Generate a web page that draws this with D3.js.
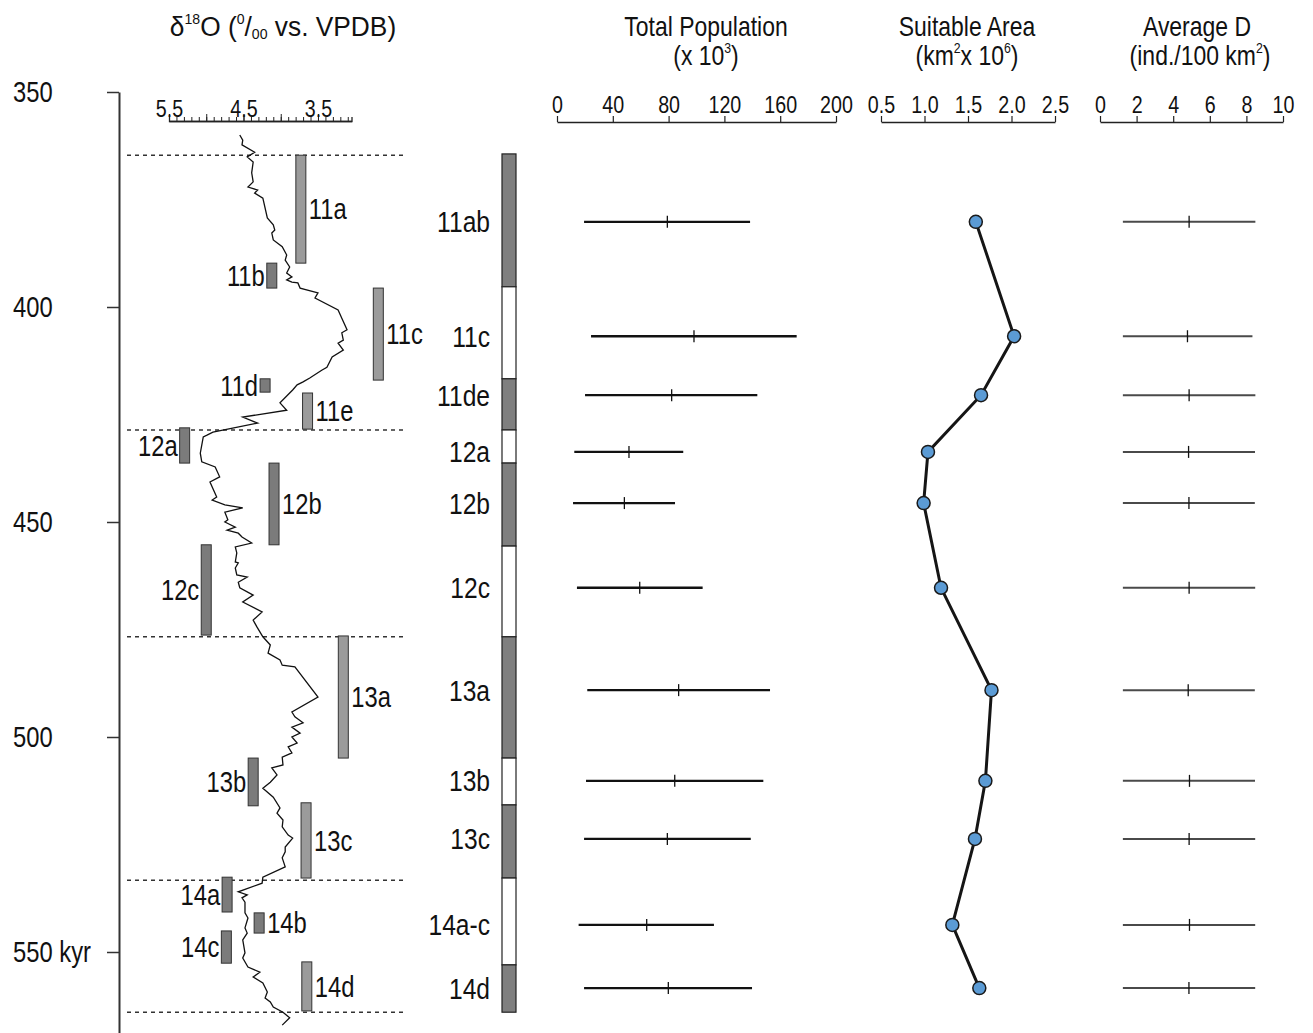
<!DOCTYPE html>
<html lang="en">
<head>
    <meta charset="UTF-8">
    <title>MIS 11-14 population estimates</title>
    <script src="https://cdn.jsdelivr.net/npm/d3@7/dist/d3.min.js"></script>
    <style>
        body { margin: 0; background: #fff; }
        svg text { font-family: 'Liberation Sans', Arial, sans-serif; fill: #111; }
    </style>
</head>
<body>
<svg width="1313" height="1033" id="mainsvg"></svg>
<script>
// ---- data ----
const ageTicks = [350, 400, 450, 500, 550]
const isoLabelTicks = [5.5, 4.5, 3.5]

// benthic d18O record (age kyr, permil)
const d18oAge = [360.0, 361.2, 362.3, 364.0, 365.1, 366.3, 368.8, 370.9, 372.1, 372.8,
    373.5, 374.7, 379.3, 380.9, 382.1, 382.8, 384.4, 386.0, 387.9, 389.1,
    390.7, 392.1, 393.0, 393.7, 394.2, 394.4, 395.6, 396.7, 397.9, 400.7,
    402.6, 405.3, 406.0, 407.7, 408.4, 410.0, 411.6, 414.0, 414.7, 416.5,
    417.4, 418.1, 419.3, 422.3, 424.0, 425.6, 427.0, 429.1, 429.8, 430.2,
    434.0, 436.0, 437.2, 439.5, 440.7, 444.2, 444.9, 446.0, 446.7, 447.7,
    449.5, 450.0, 451.2, 451.9, 452.6, 453.5, 454.9, 455.8, 457.2, 459.3,
    459.5, 460.7, 462.3, 462.8, 464.0, 465.3, 467.0, 468.6, 470.9, 472.8,
    474.4, 476.7, 478.6, 480.5, 482.1, 483.3, 483.7, 490.7, 494.2, 495.3,
    496.7, 497.7, 499.1, 500.0, 501.4, 502.3, 503.7, 504.7, 506.5, 507.2,
    508.8, 510.5, 511.9, 514.0, 516.5, 517.7, 519.3, 520.9, 522.8, 523.5,
    525.6, 526.7, 528.1, 530.2, 532.6, 534.0, 536.0, 536.7, 537.4, 538.4,
    540.9, 542.1, 544.4, 545.6, 547.2, 550.2, 551.4, 553.5, 554.7, 555.8,
    557.2, 559.3, 560.7, 561.6, 562.8, 564.0, 565.3, 567.0]
const d18oValue = [4.55, 4.51, 4.52, 4.35, 4.45, 4.37, 4.39, 4.37, 4.44, 4.31,
    4.35, 4.24, 4.18, 4.10, 4.08, 4.12, 4.10, 3.98, 3.92, 3.94,
    3.88, 3.92, 3.85, 3.92, 3.85, 3.77, 3.74, 3.50, 3.54, 3.23,
    3.18, 3.11, 3.18, 3.16, 3.23, 3.16, 3.31, 3.38, 3.45, 3.61,
    3.70, 3.78, 3.84, 4.01, 3.92, 4.51, 4.31, 4.91, 4.99, 5.04,
    5.08, 5.06, 4.88, 4.82, 4.95, 4.86, 4.92, 4.75, 4.51, 4.75,
    4.71, 4.75, 4.61, 4.72, 4.57, 4.52, 4.39, 4.61, 4.59, 4.61,
    4.57, 4.61, 4.59, 4.45, 4.57, 4.55, 4.37, 4.51, 4.25, 4.37,
    4.32, 4.24, 4.14, 4.17, 4.01, 3.98, 3.81, 3.50, 3.85, 3.81,
    3.70, 3.85, 3.74, 3.85, 3.78, 3.90, 3.85, 3.98, 3.97, 4.12,
    4.05, 4.14, 4.24, 4.10, 4.01, 4.05, 3.97, 3.98, 3.90, 3.84,
    3.94, 3.94, 3.98, 3.94, 4.24, 4.25, 4.57, 4.45, 4.52, 4.48,
    4.48, 4.44, 4.48, 4.45, 4.51, 4.48, 4.51, 4.44, 4.28, 4.37,
    4.24, 4.18, 4.21, 4.14, 4.10, 3.97, 3.88, 3.98]

// MIS boundaries (dotted lines)
const boundaryAge = [364.7, 428.6, 476.7, 533.3, 564.0]

// substages next to the isotope curve
const subLabels = ['11a', '11b', '11c', '11d', '11e', '12a', '12b', '12c', '13a', '13b', '13c', '14a', '14b', '14c', '14d']
const subStart = [364.7, 389.8, 395.6, 416.7, 420.0, 428.1, 436.3, 455.3, 476.5, 504.9, 515.3, 532.6, 540.9, 545.1, 552.3]
const subEnd = [389.8, 395.6, 417.0, 419.8, 428.4, 436.3, 455.3, 476.3, 504.9, 516.0, 532.8, 540.7, 545.6, 552.6, 563.7]
const subIso = [3.73, 4.12, 2.69, 4.21, 3.64, 5.29, 4.09, 5.00, 3.16, 4.37, 3.66, 4.72, 4.29, 4.73, 3.65]
const subWarm = [true, false, true, false, true, false, false, false, true, false, true, false, false, false, true]

// intervals used for the estimates
const colLabels = ['11ab', '11c', '11de', '12a', '12b', '12c', '13a', '13b', '13c', '14a-c', '14d']
const colStart = [364.4, 395.3, 416.7, 428.6, 436.3, 455.6, 476.7, 504.9, 515.8, 532.8, 553.0]
const colEnd = [395.3, 416.7, 428.6, 436.3, 455.6, 476.7, 504.9, 515.8, 532.8, 553.0, 564.0]
const rowAge = [380.2, 406.8, 420.5, 433.7, 445.6, 465.3, 489.1, 510.2, 523.7, 543.7, 558.4]

const popLow = [19.4, 24.4, 20.1, 12.4, 11.5, 14.3, 21.7, 20.8, 19.4, 15.5, 19.4]
const popMid = [79.1, 98.2, 82.2, 51.6, 48.3, 59.3, 87.2, 84.4, 79.1, 64.3, 79.8]
const popHigh = [138.4, 171.8, 143.6, 90.5, 84.6, 104.4, 152.7, 147.9, 138.9, 112.5, 139.8]

const areaValue = [1.59, 2.03, 1.65, 1.04, 0.99, 1.19, 1.77, 1.70, 1.58, 1.32, 1.63]

const densLow = [1.25, 1.25, 1.25, 1.25, 1.25, 1.25, 1.25, 1.25, 1.25, 1.25, 1.25]
const densMid = [4.87, 4.78, 4.87, 4.84, 4.86, 4.87, 4.82, 4.89, 4.87, 4.89, 4.86]
const densHigh = [8.49, 8.33, 8.49, 8.47, 8.46, 8.48, 8.46, 8.47, 8.48, 8.48, 8.48]

const popTicks = [0, 40, 80, 120, 160, 200]
const areaTicks = [0.5, 1.0, 1.5, 2.0, 2.5]
const densTicks = [0, 2, 4, 6, 8, 10]

// ---- scales ----
const svg = d3.select('#mainsvg')
const yAge = d3.scaleLinear().domain([350, 570]).range([92, 1038])
const xIso = d3.scaleLinear().domain([5.5, 3.05]).range([169, 351.5])
const xPop = d3.scaleLinear().domain([0, 200]).range([557, 836])
const xArea = d3.scaleLinear().domain([0.5, 2.5]).range([881, 1055])
const xDens = d3.scaleLinear().domain([0, 10]).range([1100, 1283])
const axisY = 122

const styleAxis = (g, size) => {
    g.select('.domain').attr('stroke', '#222').attr('stroke-width', 1.3)
    g.selectAll('.tick line').attr('stroke', '#222').attr('stroke-width', 1.2)
    g.selectAll('.tick text').attr('font-size', size)
}

// ---- age axis ----
const ageAxis = d3.axisLeft(yAge).tickValues(ageTicks).tickSize(12).tickSizeOuter(0)
    .tickFormat(d => d === 550 ? '550 kyr' : d)
const ageG = svg.append('g').attr('transform', 'translate(119,0)').call(ageAxis)
ageG.select('.domain').attr('stroke', '#333').attr('stroke-width', 2)
ageG.selectAll('.tick line').attr('stroke', '#333').attr('stroke-width', 1.5)
ageG.selectAll('.tick text').attr('x', -106).attr('text-anchor', 'start').attr('font-size', 29)

// ---- isotope axis ----
const isoG = svg.append('g').attr('transform', `translate(0,${axisY - 1})`)
isoG.append('g').call(d3.axisTop(xIso).tickValues(d3.range(55, 30, -1).map(d => d / 10))
    .tickSize(4).tickSizeOuter(4).tickFormat(''))
isoG.append('g').call(d3.axisTop(xIso).tickValues([5.5, 5.0, 4.5, 4.0, 3.5]).tickSize(7).tickSizeOuter(0)
    .tickFormat(d => isoLabelTicks.includes(d) ? d.toFixed(1) : ''))
isoG.selectAll('.domain').attr('stroke', '#222').attr('stroke-width', 1.3)
isoG.selectAll('.tick line').attr('stroke', '#222').attr('stroke-width', 1)
isoG.selectAll('.tick text').attr('y', -4).attr('font-size', 24)

// dotted boundaries
svg.append('g').selectAll('line').data(boundaryAge).join('line')
    .attr('x1', 127).attr('x2', 405)
    .attr('y1', d => yAge(d)).attr('y2', d => yAge(d))
    .attr('stroke', '#333').attr('stroke-width', 1.5).attr('stroke-dasharray', '4,4')

// isotope curve
const isoLine = d3.line().x(d => xIso(d[1])).y(d => yAge(d[0]))
svg.append('path').datum(d3.zip(d18oAge, d18oValue))
    .attr('d', isoLine).attr('fill', 'none').attr('stroke', '#111').attr('stroke-width', 1.3)

// substage bars
const subG = svg.append('g')
subLabels.forEach((lab, i) => {
    const cx = xIso(subIso[i])
    const y0 = yAge(subStart[i]), y1 = yAge(subEnd[i])
    subG.append('rect').attr('x', cx - 5).attr('y', y0).attr('width', 10).attr('height', y1 - y0)
        .attr('fill', subWarm[i] ? '#9b9b9b' : '#7b7b7b').attr('stroke', '#333').attr('stroke-width', 1)
    const right = i % 2 === 0
    subG.append('text').attr('x', right ? cx + 8 : cx - 7).attr('y', (y0 + y1) / 2)
        .attr('dy', '0.35em').attr('text-anchor', right ? 'start' : 'end')
        .attr('font-size', 29).text(lab)
})

// interval column
const colG = svg.append('g')
colLabels.forEach((lab, i) => {
    colG.append('rect').attr('x', 502).attr('y', yAge(colStart[i])).attr('width', 14)
        .attr('height', yAge(colEnd[i]) - yAge(colStart[i]))
        .attr('fill', i % 2 === 0 ? '#7f7f7f' : '#fff').attr('stroke', '#222').attr('stroke-width', 1.2)
    colG.append('text').attr('x', 490).attr('y', yAge(rowAge[i])).attr('dy', '0.35em')
        .attr('text-anchor', 'end').attr('font-size', 30).text(lab)
})

// ---- total population ----
const popG = svg.append('g')
popG.append('g').attr('transform', `translate(0,${axisY})`)
    .call(d3.axisTop(xPop).tickValues(popTicks).tickSize(6).tickSizeOuter(0).tickPadding(3))
    .call(g => styleAxis(g, 24))
rowAge.forEach((a, i) => {
    const y = yAge(a)
    popG.append('line').attr('x1', xPop(popLow[i])).attr('x2', xPop(popHigh[i]))
        .attr('y1', y).attr('y2', y).attr('stroke', '#111').attr('stroke-width', 2.4)
    popG.append('line').attr('x1', xPop(popMid[i])).attr('x2', xPop(popMid[i]))
        .attr('y1', y - 6).attr('y2', y + 6).attr('stroke', '#111').attr('stroke-width', 1.3)
})

// ---- suitable area ----
const areaG = svg.append('g')
areaG.append('g').attr('transform', `translate(0,${axisY})`)
    .call(d3.axisTop(xArea).tickValues(areaTicks).tickSize(6).tickSizeOuter(0).tickPadding(3)
        .tickFormat(d3.format('.1f')))
    .call(g => styleAxis(g, 24))
const areaPts = d3.zip(rowAge, areaValue)
areaG.append('path').datum(areaPts)
    .attr('d', d3.line().x(d => xArea(d[1])).y(d => yAge(d[0])))
    .attr('fill', 'none').attr('stroke', '#151515').attr('stroke-width', 3)
areaG.selectAll('circle').data(areaPts).join('circle')
    .attr('cx', d => xArea(d[1])).attr('cy', d => yAge(d[0])).attr('r', 6.5)
    .attr('fill', '#5b9bd5').attr('stroke', '#1a1a1a').attr('stroke-width', 1.5)

// ---- average density ----
const densG = svg.append('g')
densG.append('g').attr('transform', `translate(0,${axisY})`)
    .call(d3.axisTop(xDens).tickValues(densTicks).tickSize(6).tickSizeOuter(0).tickPadding(3))
    .call(g => styleAxis(g, 24))
rowAge.forEach((a, i) => {
    const y = yAge(a)
    densG.append('line').attr('x1', xDens(densLow[i])).attr('x2', xDens(densHigh[i]))
        .attr('y1', y).attr('y2', y).attr('stroke', '#4a4a4a').attr('stroke-width', 2)
    densG.append('line').attr('x1', xDens(densMid[i])).attr('x2', xDens(densMid[i]))
        .attr('y1', y - 6).attr('y2', y + 6).attr('stroke', '#111').attr('stroke-width', 1.3)
})

// ---- titles ----
const title = (x, y) => svg.append('text').attr('x', x).attr('y', y).attr('text-anchor', 'middle').attr('font-size', 28)
const sup = (t, s) => t.append('tspan').attr('dy', -12).attr('font-size', 15).text(s)
const down = (t, s) => t.append('tspan').attr('dy', 12).text(s)

let t = title(283, 36).attr('class', 'wide')
t.append('tspan').text('δ')
sup(t, '18')
down(t, 'O (')
sup(t, '0')
down(t, '/')
t.append('tspan').attr('dy', 3).attr('font-size', 15).text('00')
t.append('tspan').attr('dy', -3).text(' vs. VPDB)')

title(706, 36).text('Total Population')
t = title(706, 65)
t.append('tspan').text('(x 10')
sup(t, '3')
down(t, ')')

title(967, 36).text('Suitable Area')
t = title(967, 65)
t.append('tspan').text('(km')
sup(t, '2')
down(t, 'x 10')
sup(t, '6')
down(t, ')')

title(1197, 36).text('Average D')
t = title(1200, 65)
t.append('tspan').text('(ind./100 km')
sup(t, '2')
down(t, ')')

// the figure's type is a condensed grotesque: squeeze every label horizontally
svg.selectAll('text').each(function () {
    const el = d3.select(this)
    const x = +el.attr('x') || 0, y = +el.attr('y') || 0
    const k = el.classed('wide') ? 0.94 : 0.82
    el.attr('x', 0).attr('y', 0).attr('transform', `translate(${x},${y}) scale(${k},1)`)
})
</script>
</body>
</html>
